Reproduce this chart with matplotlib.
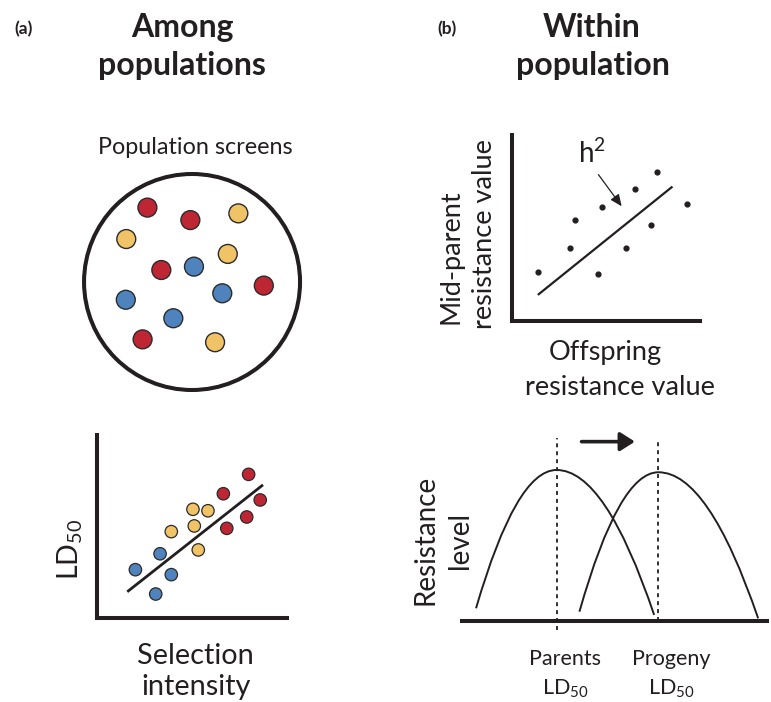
import matplotlib
matplotlib.use("Agg")
import matplotlib.pyplot as plt
from matplotlib.path import Path
from matplotlib.patches import PathPatch, Circle

# Schematic: selection for resistance among / within populations

plt.rcParams['font.family'] = ['Lato', 'DejaVu Sans']
plt.rcParams['mathtext.fontset'] = 'custom'
plt.rcParams['mathtext.rm'] = 'Lato'

INK = '#231f20'
COLOURS = {'r': '#be2633', 'y': '#f0c366', 'b': '#4f83bd'}

# --- panel (a), top: population screens (dots in a dish) ---
screen_x = [3.10, 4.89, 6.89, 2.22, 6.45, 3.68, 5.04, 7.95, 6.22, 2.20, 4.18, 2.90, 5.92]
screen_y = [8.10, 7.58, 7.86, 6.79, 6.17, 5.50, 5.64, 4.85, 4.53, 4.26, 3.49, 2.61, 2.49]
screen_group = ['r', 'r', 'y', 'y', 'y', 'r', 'b', 'r', 'b', 'b', 'b', 'r', 'y']
dish_centre = (4.96, 5.0)
dish_radius = 4.5

# --- panel (a), bottom: LD50 vs selection intensity ---
sel_x = [7.98, 6.65, 8.59, 5.05, 5.84, 7.88, 5.12, 6.83, 3.91, 5.33, 3.32, 2.02, 3.91, 3.09]
ld50_y = [7.85, 6.79, 6.45, 5.94, 5.86, 5.52, 5.03, 4.90, 4.72, 3.72, 3.51, 2.64, 2.37, 1.31]
sel_group = ['r', 'r', 'r', 'y', 'y', 'r', 'y', 'r', 'y', 'y', 'b', 'b', 'b', 'b']
sel_fit_x = [1.65, 8.68]
sel_fit_y = [1.48, 7.23]

# --- panel (b), top: mid-parent vs offspring ---
off_x = [1.38, 3.35, 3.09, 4.77, 4.59, 6.06, 6.56, 7.71, 7.38, 9.32]
mid_y = [2.62, 5.43, 3.94, 6.11, 2.53, 3.94, 7.08, 8.01, 5.15, 6.29]
her_fit_x = [1.42, 8.49]
her_fit_y = [1.44, 7.19]
h2_arrow = [(4.51, 7.99), (5.92, 6.05)]

# --- panel (b), bottom: resistance distributions (left foot, peak, right foot) ---
parents_curve = [(0.46, 0.67), (3.10, 7.95), (6.30, 0.32)]
progeny_curve = [(3.85, 0.49), (6.44, 7.83), (9.71, 0.14)]
ld50_lines = [(3.10, -0.47, 9.63), (6.44, 0.0, 9.53)]
shift_arrow = [(3.92, 9.44), (5.67, 9.44)]

W, H = 771, 702
fig = plt.figure(figsize=(W / 100, H / 100), dpi=100)


def box(x0, y0, x1, y1):
    # pixel box (top-left origin) -> figure fraction rect
    return [x0 / W, 1 - y1 / H, (x1 - x0) / W, (y1 - y0) / H]


def ftext(x, y, s, **kw):
    fig.text(x / W, 1 - y / H, s, color=INK, **kw)


def hump(ax, pts):
    (lx, ly), (px, py), (rx, ry) = pts
    verts = [(lx, ly), ((lx + px) / 2, py), (px, py), ((px + rx) / 2, py), (rx, ry)]
    codes = [Path.MOVETO, Path.CURVE3, Path.CURVE3, Path.CURVE3, Path.CURVE3]
    ax.add_patch(PathPatch(Path(verts, codes), fill=False, ec=INK, lw=1.4))


def l_axes(rect, left=True):
    ax = fig.add_axes(rect)
    ax.set_xlim(0, 10)
    ax.set_ylim(0, 10)
    ax.set_xticks([])
    ax.set_yticks([])
    for side in ['top', 'right']:
        ax.spines[side].set_visible(False)
    ax.spines['left'].set_visible(left)
    for side in ['left', 'bottom']:
        ax.spines[side].set_linewidth(2.9)
        ax.spines[side].set_color(INK)
        ax.spines[side].set_capstyle('projecting')
    ax.patch.set_alpha(0)
    return ax


# dish
ax_d = fig.add_axes(box(73, 162, 313, 402))
ax_d.set_xlim(0, 10)
ax_d.set_ylim(0, 10)
ax_d.axis('off')
ax_d.add_patch(Circle(dish_centre, dish_radius, fill=False, ec=INK, lw=2.9))
ax_d.scatter(screen_x, screen_y, s=185, c=[COLOURS[g] for g in screen_group],
             edgecolors='#2b2b2b', linewidths=1.0, zorder=3)

# LD50 vs selection
ax_s = l_axes(box(97, 435, 287, 618))
ax_s.plot(sel_fit_x, sel_fit_y, color=INK, lw=2.0, zorder=2)
ax_s.scatter(sel_x, ld50_y, s=80, c=[COLOURS[g] for g in sel_group],
             edgecolors='#2b2b2b', linewidths=0.9, zorder=3)

# heritability
ax_h = l_axes(box(512, 135, 700, 321))
ax_h.plot(her_fit_x, her_fit_y, color=INK, lw=1.6)
ax_h.scatter(off_x, mid_y, s=12, color=INK, zorder=3)
ax_h.annotate('', xy=h2_arrow[1], xytext=h2_arrow[0],
              arrowprops=dict(arrowstyle='-|>,head_length=0.5,head_width=0.22',
                              color=INK, lw=0.9, mutation_scale=14))

# resistance distributions
ax_r = l_axes(box(462, 431, 767, 621), left=False)
hump(ax_r, parents_curve)
hump(ax_r, progeny_curve)
for x, y0, y1 in ld50_lines:
    ax_r.plot([x, x], [y0, y1], color=INK, lw=1.3, ls=(0, (2.2, 2.2)), clip_on=False)
ax_r.annotate('', xy=shift_arrow[1], xytext=shift_arrow[0],
              arrowprops=dict(arrowstyle='-|>,head_length=0.55,head_width=0.35',
                              color=INK, lw=2.6, mutation_scale=16, shrinkA=0, shrinkB=0))

# titles
ftext(24, 34, '(a)', fontsize=12.5, fontweight='bold', ha='center', va='baseline')
ftext(182, 37, 'Among', fontsize=23, fontweight='bold', ha='center', va='baseline')
ftext(182, 75, 'populations', fontsize=23, fontweight='bold', ha='center', va='baseline')
ftext(447, 34, '(b)', fontsize=12.5, fontweight='bold', ha='center', va='baseline')
ftext(592, 37, 'Within', fontsize=23, fontweight='bold', ha='center', va='baseline')
ftext(593, 75, 'population', fontsize=23, fontweight='bold', ha='center', va='baseline')

# labels
ftext(195, 154, 'Population screens', fontsize=16.8, ha='center', va='baseline')
ftext(70, 549, r'LD$_{\mathregular{50}}$', fontsize=20.5, rotation=90, ha='center', va='center')
ftext(195, 664, 'Selection', fontsize=20.8, ha='center', va='baseline')
ftext(196, 695, 'intensity', fontsize=20.8, ha='center', va='baseline')

ftext(451, 257, 'Mid-parent', fontsize=19.5, rotation=90, ha='center', va='center')
ftext(485, 234, 'resistance value', fontsize=19.5, rotation=90, ha='center', va='center')
ftext(605, 360, 'Offspring', fontsize=19.5, ha='center', va='baseline')
ftext(620, 395, 'resistance value', fontsize=19.5, ha='center', va='baseline')
ftext(578, 163, r'h$^{\mathregular{2}}$', fontsize=20, ha='left', va='baseline')

ftext(426, 540, 'Resistance', fontsize=20, rotation=90, ha='center', va='center')
ftext(460, 540, 'level', fontsize=20, rotation=90, ha='center', va='center')
ftext(565, 665, 'Parents', fontsize=15.5, ha='center', va='baseline')
ftext(565, 694, r'LD$_{\mathregular{50}}$', fontsize=15.5, ha='center', va='baseline')
ftext(671, 665, 'Progeny', fontsize=15.5, ha='center', va='baseline')
ftext(671, 694, r'LD$_{\mathregular{50}}$', fontsize=15.5, ha='center', va='baseline')

fig.savefig('out.png', dpi=100)
